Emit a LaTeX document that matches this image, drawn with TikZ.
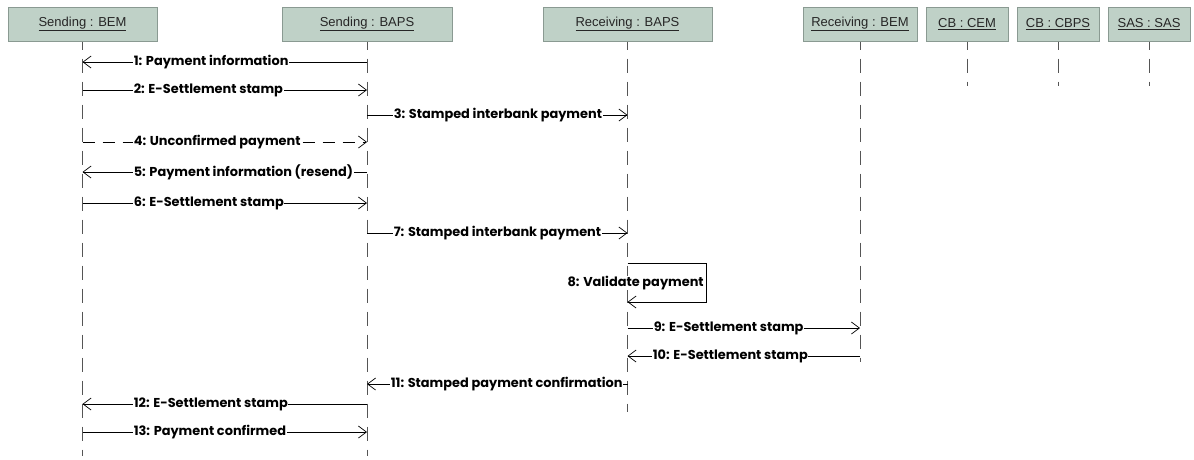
\documentclass[tikz,border=0pt]{standalone}
\usepackage{fontspec}
\setmainfont{Liberation Sans}
\newfontfamily\msgfont{Poppins}
\usetikzlibrary{arrows.meta}
\definecolor{hdrfill}{HTML}{BFD1C7}
\definecolor{hdrdark}{HTML}{8A9A92}
\definecolor{lifec}{HTML}{555555}
\begin{document}
\begin{tikzpicture}[x=1pt,y=-1pt,
  hdr/.style={rectangle, fill=hdrfill, draw=hdrdark, line width=1pt, minimum height=34pt, inner sep=0pt, font=\fontsize{13}{15}\selectfont, text=black!85},
  life/.style={draw=lifec, line width=1pt, dash pattern=on 14pt off 9pt, dash phase=6pt},
  msg/.style={draw=black, line width=0.7pt, -{Straight Barb[length=8pt,width=12pt,line width=0.7pt]}},
  dmsg/.style={msg, dash pattern=on 12pt off 8pt},
  lbl/.style={fill=white, inner sep=0.6pt, font=\msgfont\bfseries\fontsize{12.9}{14}\selectfont, anchor=west},
]
\useasboundingbox (0,0) rectangle (1194,459);
% headers
\node[hdr, minimum width=149pt] (h1) at (82.5,24) {\underline{Sending : BEM}};
\node[hdr, minimum width=170pt] (h2) at (367,24) {\underline{Sending : BAPS}};
\node[hdr, minimum width=169pt] (h3) at (627.5,24) {\underline{Receiving : BAPS}};
\node[hdr, minimum width=114pt] (h4) at (860,24) {\underline{Receiving : BEM}};
\node[hdr, minimum width=82pt] (h5) at (967,24) {\underline{CB : CEM}};
\node[hdr, minimum width=82pt] (h6) at (1058,24) {\underline{CB : CBPS}};
\node[hdr, minimum width=82pt] (h7) at (1149,24) {\underline{SAS : SAS}};
% lifeline ends
\coordinate (e1) at (h1.south |- 0,456);
\coordinate (e2) at (h2.south |- 0,456);
\coordinate (e3) at (h3.south |- 0,412);
\coordinate (e4) at (h4.south |- 0,362);
\coordinate (e5) at (h5.south |- 0,86);
\coordinate (e6) at (h6.south |- 0,86);
\coordinate (e7) at (h7.south |- 0,86);
\foreach \i in {1,...,7}{\draw[life] (h\i.south) -- (e\i);}
% messages
\draw[msg] (h2.south |- 0,62) -- (h1.south |- 0,62);
\draw[msg] (h1.south |- 0,90) -- (h2.south |- 0,90);
\draw[msg] (h2.south |- 0,115) -- (h3.south |- 0,115);
\draw[dmsg] (h1.south |- 0,142) -- (h2.south |- 0,142);
\draw[msg] (h2.south |- 0,172) -- (h1.south |- 0,172);
\draw[msg] (h1.south |- 0,203) -- (h2.south |- 0,203);
\draw[msg] (h2.south |- 0,233) -- (h3.south |- 0,233);
\draw[msg] (h3.south |- 0,328) -- (h4.south |- 0,328);
\draw[msg] (h4.south |- 0,356) -- (h3.south |- 0,356);
\draw[msg] (h3.south |- 0,384) -- (h2.south |- 0,384);
\draw[msg] (h2.south |- 0,404) -- (h1.south |- 0,404);
\draw[msg] (h1.south |- 0,432) -- (h2.south |- 0,432);
% labels
\node[lbl] (l1) at (133,62) {1: Payment information};
\node[lbl] (l2) at (133,90) {2: E-Settlement stamp};
\node[lbl] (l3) at (393,115) {3: Stamped interbank payment};
\node[lbl] (l4) at (133,142) {4: Unconfirmed payment};
\node[lbl] (l5) at (133,172) {5: Payment information (resend)};
\node[lbl] (l6) at (133,203) {6: E-Settlement stamp};
\node[lbl] (l7) at (393,233) {7: Stamped interbank payment};
\node[lbl, anchor=east] (l8) at (704.5,283) {8: Validate payment};
\node[lbl] (l9) at (653,328) {9: E-Settlement stamp};
\node[lbl] (l10) at (652,356) {10: E-Settlement stamp};
\node[lbl] (l11) at (390,384) {11: Stamped payment confirmation};
\node[lbl] (l12) at (133,404) {12: E-Settlement stamp};
\node[lbl] (l13) at (133,432) {13: Payment confirmed};
% self message 8
\coordinate (s1) at (706,263);
\coordinate (s2) at (706,302);
\draw[msg] (h3.south |- 0,263) -- (s1) -- (s2) -- (h3.south |- 0,302);
\end{tikzpicture}
\end{document}
